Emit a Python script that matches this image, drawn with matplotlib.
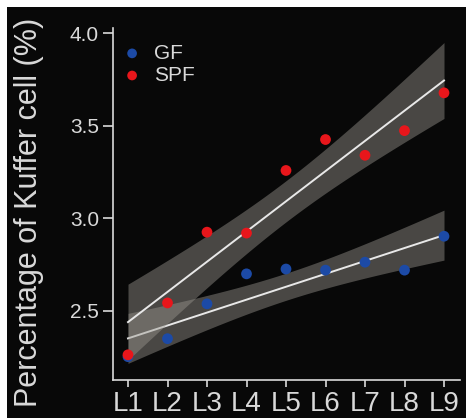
import numpy as np
import matplotlib
matplotlib.use("Agg")
import matplotlib.pyplot as plt
from matplotlib.patches import Rectangle

categories = ["L1", "L2", "L3", "L4", "L5", "L6", "L7", "L8", "L9"]
gf_values = [2.253, 2.35, 2.538, 2.70, 2.726, 2.72, 2.763, 2.72, 2.903]
spf_values = [2.263, 2.543, 2.925, 2.92, 3.258, 3.425, 3.34, 3.473, 3.677]
yticks = [2.5, 3.0, 3.5, 4.0]

plt.rcParams['font.family'] = ['Liberation Sans', 'DejaVu Sans']
fg = '#d9d9d9'

fig = plt.figure(figsize=(4.66, 4.18), dpi=100, facecolor='white')
fig.patches.append(Rectangle((7/466, 0), 1, (418-7)/418, transform=fig.transFigure,
                             facecolor='#080808', edgecolor='none', zorder=-10))
ax = fig.add_axes([113/466, 1-380/418, 347/466, (380-28)/418])
ax.set_facecolor('none')


def fit_band(x, y, level_t):
    x = np.asarray(x, float); y = np.asarray(y, float)
    n = len(x)
    b, a = np.polyfit(x, y, 1)
    xs = np.linspace(x.min(), x.max(), 200)
    yhat = a + b * xs
    resid = y - (a + b * x)
    s = np.sqrt(np.sum(resid**2) / (n - 2))
    sxx = np.sum((x - x.mean())**2)
    se = s * np.sqrt(1/n + (xs - x.mean())**2 / sxx)
    return xs, yhat, yhat - level_t*se, yhat + level_t*se

xpos = np.arange(1, len(categories) + 1)
t95 = 2.365
for vals, z in [(gf_values, 2), (spf_values, 3)]:
    xs, yh, lo, hi = fit_band(xpos, vals, t95)
    ax.fill_between(xs, lo, hi, color='#99968f', alpha=0.45, linewidth=0, zorder=z)
    ax.plot(xs, yh, color='#e8e8e8', lw=1.4, zorder=z+0.1)
for vals, col, lab, z in [(gf_values, '#1c4aa6', 'GF', 5), (spf_values, '#e8161b', 'SPF', 6)]:
    ax.scatter(xpos, vals, s=60, color=col, edgecolors='none', zorder=z, label=lab)

ax.set_xlim(1 - 15/39.5, 9 + 16/39.5)
ax.set_ylim(2.5 - 69/185, 4.0 + 5/185)
ax.set_xticks(xpos)
ax.set_xticklabels(categories)
ax.set_yticks(yticks)
ax.set_yticklabels([f"{v:.1f}" for v in yticks])
for s in ['top', 'right']:
    ax.spines[s].set_visible(False)
for s in ['left', 'bottom']:
    ax.spines[s].set_color(fg)
    ax.spines[s].set_linewidth(1.2)
ax.tick_params(axis='x', colors=fg, labelsize=20, length=5, width=1.2, pad=3)
ax.tick_params(axis='y', colors=fg, labelsize=15, length=7, width=1.2, pad=3)
ax.set_ylabel("Percentage of Kuffer cell (%)", color=fg, fontsize=22)
ax.yaxis.set_label_coords(-0.199, 0.477)

leg = ax.legend(loc='upper left', bbox_to_anchor=(0.025, 0.955), frameon=False,
                fontsize=15, handlelength=1.0, handletextpad=0.55, labelspacing=0.15,
                borderpad=0, borderaxespad=0, markerscale=0.9)
for t in leg.get_texts():
    t.set_color(fg)

fig.savefig("out.png", dpi=100, facecolor='white')
